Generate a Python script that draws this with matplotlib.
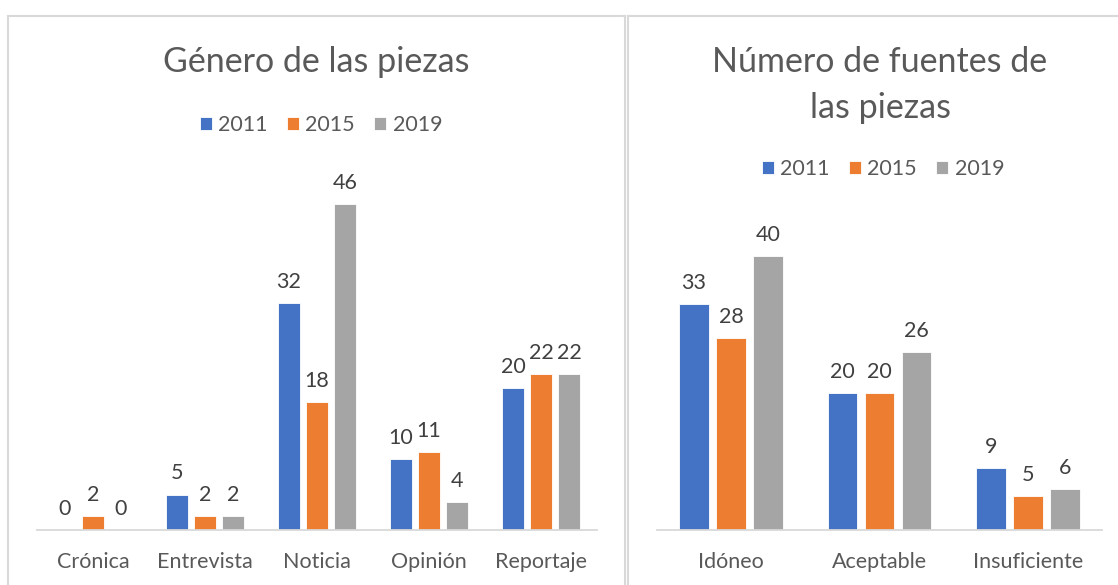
import numpy as np
import matplotlib.pyplot as plt
from matplotlib.lines import Line2D

plt.rcParams['font.family'] = ['Lato', 'DejaVu Sans']

years = ['2011', '2015', '2019']
colors = ['#4472c4', '#ed7d31', '#a5a5a5']

genero_cats = ['Crónica', 'Entrevista', 'Noticia', 'Opinión', 'Reportaje']
genero_2011 = [0, 5, 32, 10, 20]
genero_2015 = [2, 2, 18, 11, 22]
genero_2019 = [0, 2, 46, 4, 22]

fuentes_cats = ['Idóneo', 'Aceptable', 'Insuficiente']
fuentes_2011 = [33, 20, 9]
fuentes_2015 = [28, 20, 5]
fuentes_2019 = [40, 26, 6]

W, H = 1118, 585
fig = plt.figure(figsize=(W / 100, H / 100), dpi=100)
fig.patch.set_facecolor('white')

def px(x0, y_top, x1, y_bot):
    return [x0 / W, 1 - y_bot / H, (x1 - x0) / W, (y_bot - y_top) / H]

def draw(ax, cats, series, ymax, width):
    x = np.arange(len(cats))
    for i, (vals, c, yr) in enumerate(zip(series, colors, years)):
        bars = ax.bar(x + (i - 1) * 0.25, vals, width=width, color=c, label=yr,
                      edgecolor='white', linewidth=0.6)
        ax.bar_label(bars, padding=8, fontsize=15.5, color='#404040')
    ax.set_xlim(-0.5, len(cats) - 0.5)
    ax.set_ylim(0, ymax)
    ax.set_xticks(x)
    ax.set_xticklabels(cats, fontsize=15.5, color='#595959')
    ax.tick_params(axis='x', length=0, pad=16)
    ax.set_yticks([])
    for s in ['top', 'right', 'left']:
        ax.spines[s].set_visible(False)
    ax.spines['bottom'].set_color('#d9d9d9')
    ax.spines['bottom'].set_linewidth(1.3)
    ax.set_facecolor('none')

ax1 = fig.add_axes(px(37, 175.5, 597, 530))
draw(ax1, genero_cats, [genero_2011, genero_2015, genero_2019], 50, 0.205)
ax2 = fig.add_axes(px(657, 222, 1102, 530))
draw(ax2, fuentes_cats, [fuentes_2011, fuentes_2015, fuentes_2019], 45, 0.2)

fig.text(316 / W, 1 - 62 / H, 'Género de las piezas', ha='center', va='center',
         fontsize=24.5, color='#595959')
fig.text(880 / W, 1 - 62 / H, 'Número de fuentes de', ha='center', va='center',
         fontsize=24.5, color='#595959')
fig.text(880 / W, 1 - 108 / H, 'las piezas', ha='center', va='center',
         fontsize=24.5, color='#595959')

for ax, cx, cy in [(ax1, 321, 125), (ax2, 883, 169)]:
    ax.legend(loc='center', bbox_to_anchor=(cx / W, 1 - cy / H),
              bbox_transform=fig.transFigure, ncol=3, frameon=False,
              fontsize=15.5, labelcolor='#595959', handlelength=0.55,
              handleheight=0.55, handletextpad=0.3, columnspacing=0.9)

# chart borders
bc = '#d9d9d9'
for xs, ys in [([8, 8], [16, 585]), ([8, 625], [16, 16]), ([625, 625], [16, 585]),
               ([628, 628], [16, 585]), ([628, 1118], [16, 16])]:
    fig.add_artist(Line2D([x / W for x in xs], [1 - y / H for y in ys],
                          color=bc, linewidth=1.5, transform=fig.transFigure))

fig.savefig('out.png', dpi=100)
